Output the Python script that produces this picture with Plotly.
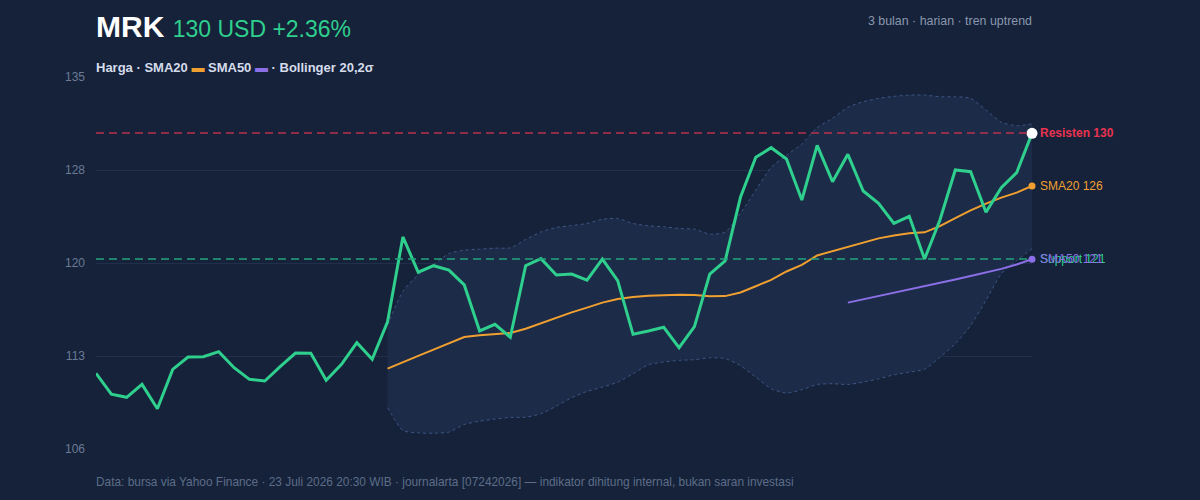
import plotly.graph_objects as go

# ---- data ----
price = [111.9, 110.27, 110.03, 111.04, 109.14, 112.21, 113.17, 113.2, 113.59, 112.34,
         111.43, 111.3, 112.42, 113.48, 113.46, 111.36, 112.6, 114.29, 113.0, 115.92,
         122.53, 119.78, 120.29, 119.95, 118.79, 115.2, 115.72, 114.71, 120.29, 120.84,
         119.57, 119.64, 119.17, 120.81, 119.12, 114.94, 115.2, 115.49, 113.9, 115.54,
         119.64, 120.66, 125.62, 128.74, 129.49, 128.61, 125.41, 129.67, 126.84, 128.97,
         126.11, 125.15, 123.59, 124.14, 120.81, 123.85, 127.75, 127.62, 124.45, 126.37,
         127.54, 130.61]

sma20_start = 19
sma20 = [112.27, 112.74, 113.26, 113.75, 114.24, 114.73, 114.86, 114.94, 115.04, 115.38,
         115.82, 116.24, 116.65, 117.02, 117.41, 117.69, 117.85, 117.95, 118.0, 118.03,
         118.0, 117.9, 117.92, 118.2, 118.69, 119.19, 119.84, 120.36, 121.09, 121.42,
         121.81, 122.13, 122.42, 122.65, 122.81, 122.89, 123.38, 124.0, 124.6, 125.13,
         125.6, 125.99, 126.51]

sma50_start = 49
sma50 = [117.41, 117.66, 117.92, 118.19, 118.45, 118.68, 118.92, 119.21, 119.49, 119.75,
         120.04, 120.38, 120.79]

bb_upper = [115.67, 118.3, 119.57, 120.38, 121.24, 121.5, 121.58, 121.66, 121.68, 122.33,
            122.92, 123.27, 123.42, 123.58, 123.91, 123.97, 123.58, 123.4, 123.32, 123.19,
            123.14, 122.75, 122.9, 124.37, 126.18, 127.95, 128.91, 129.77, 131.05, 131.78,
            132.64, 133.07, 133.34, 133.49, 133.59, 133.59, 133.46, 133.46, 133.34, 132.43,
            131.47, 131.2, 131.34]
bb_lower = [109.22, 107.44, 107.26, 107.23, 107.31, 107.91, 108.17, 108.33, 108.46, 108.48,
            108.75, 109.34, 110.0, 110.49, 110.82, 111.21, 111.87, 112.57, 112.78, 112.91,
            112.96, 113.11, 113.05, 112.5, 111.6, 110.7, 110.36, 110.62, 111.03, 111.09,
            111.03, 111.21, 111.47, 111.78, 111.99, 112.22, 113.16, 114.2, 115.63, 117.58,
            119.67, 120.7, 121.61]

resistance = 130.63
support = 120.81

y_ticks = [106, 113.25, 120.5, 127.75, 135]
y_tick_text = ["106", "113", "120", "128", "135"]

# ---- styles ----
BG = "#15223a"
GREEN = "#2fcf8e"
ORANGE = "#f0a030"
PURPLE = "#8b6fe6"
RED = "#e8334f"
FONT = "Liberation Sans, Arial, sans-serif"

x_all = list(range(len(price)))
x_sma20 = list(range(sma20_start, sma20_start + len(sma20)))
x_sma50 = list(range(sma50_start, sma50_start + len(sma50)))
x_bb = list(range(sma20_start, sma20_start + len(bb_upper)))
last = len(price) - 1

fig = go.Figure()

band_line = dict(color="#3d5685", width=1, dash="3px,3px", shape="spline", smoothing=0.6)
fig.add_trace(go.Scatter(x=x_bb, y=bb_upper, mode="lines", line=band_line,
                         hoverinfo="skip", showlegend=False))
fig.add_trace(go.Scatter(x=x_bb, y=bb_lower, mode="lines", line=band_line,
                         fill="tonexty", fillcolor="#1c2b48",
                         hoverinfo="skip", showlegend=False))

fig.add_shape(type="line", x0=0, x1=last, y0=resistance, y1=resistance, xref="x", yref="y",
              line=dict(color="#b8324f", width=1.5, dash="8px,5px"), layer="above")
fig.add_shape(type="line", x0=0, x1=last, y0=support, y1=support, xref="x", yref="y",
              line=dict(color="#23a57c", width=1.5, dash="8px,5px"), layer="above")

fig.add_trace(go.Scatter(x=x_sma50, y=sma50, mode="lines",
                         line=dict(color=PURPLE, width=2), showlegend=False))
fig.add_trace(go.Scatter(x=x_sma20, y=sma20, mode="lines",
                         line=dict(color=ORANGE, width=2), showlegend=False))
fig.add_trace(go.Scatter(x=x_all, y=price, mode="lines",
                         line=dict(color=GREEN, width=3), showlegend=False))

# end dots
fig.add_trace(go.Scatter(x=[x_sma50[-1]], y=[sma50[-1]], mode="markers", cliponaxis=False,
                         marker=dict(color=PURPLE, size=7), showlegend=False))
fig.add_trace(go.Scatter(x=[x_sma20[-1]], y=[sma20[-1]], mode="markers", cliponaxis=False,
                         marker=dict(color=ORANGE, size=7), showlegend=False))
fig.add_trace(go.Scatter(x=[last], y=[price[-1]], mode="markers", cliponaxis=False,
                         marker=dict(color="#ffffff", size=11), showlegend=False))

# right side labels
def right_label(y, text, color, bold=False):
    fig.add_annotation(x=1.0, xref="paper", y=y, yref="y", xshift=6, xanchor="left",
                       yanchor="middle", showarrow=False,
                       text=("<b>%s</b>" % text) if bold else text,
                       font=dict(family=FONT, size=12, color=color))

right_label(resistance, "Resisten 130", RED, bold=True)
right_label(sma20[-1], "SMA20 126", ORANGE)
right_label(support, "Support 121", GREEN)
right_label(sma50[-1], "SMA50 121", PURPLE)

# title
fig.add_annotation(x=0, xref="paper", y=27, yref="paper", xanchor="left", yanchor="middle",
                   showarrow=False, xshift=-2,
                   text="<b>MRK</b> <span style='font-size:23px;color:%s'>130 USD +2.36%%</span>" % GREEN,
                   font=dict(family=FONT, size=30, color="#ffffff"))
fig.add_annotation(x=1.0, xref="paper", y=21, yref="paper", xanchor="right", yanchor="middle",
                   showarrow=False, xshift=2, text="3 bulan · harian · tren uptrend",
                   font=dict(family=FONT, size=12.4, color="#8a97ad"))
fig.add_annotation(x=0, xref="paper", y=67, yref="paper", xanchor="left", yanchor="middle",
                   showarrow=False, xshift=-2,
                   text=("<b>Harga · SMA20 <span style='color:%s'>▬</span> SMA50 "
                         "<span style='color:%s'>▬</span> · Bollinger 20,2σ</b>") % (ORANGE, PURPLE),
                   font=dict(family=FONT, size=13, color="#d5dceb"))
fig.add_annotation(x=0, xref="paper", y=482, yref="paper", xanchor="left", yanchor="middle",
                   showarrow=False, xshift=-2,
                   text=("Data: bursa via Yahoo Finance · 23 Juli 2026 20:30 WIB · journalarta "
                         "[07242026] — indikator dihitung internal, bukan saran investasi"),
                   font=dict(family=FONT, size=11.9, color="#5d6d88"))

# convert pixel y positions of header/footer annotations to paper coords
top, bottom = 77, 51
plot_h = 500 - top - bottom
for ann in fig.layout.annotations:
    if ann.yref == "paper":
        ann.y = (500 - bottom - ann.y) / plot_h

fig.update_layout(
    width=1200, height=500,
    paper_bgcolor=BG, plot_bgcolor=BG,
    margin=dict(l=96, r=168, t=top, b=bottom),
    showlegend=False,
    font=dict(family=FONT),
    xaxis=dict(range=[0, last], showgrid=False, zeroline=False, showticklabels=False,
               showline=False, fixedrange=True),
    yaxis=dict(range=[106, 135], tickvals=y_ticks, ticktext=y_tick_text,
               gridcolor="#212f4b", gridwidth=1, zeroline=False, showline=False,
               tickfont=dict(family=FONT, size=12, color="#6b7a94"),
               ticklabelstandoff=10, fixedrange=True),
)

fig.write_html("out.html")
